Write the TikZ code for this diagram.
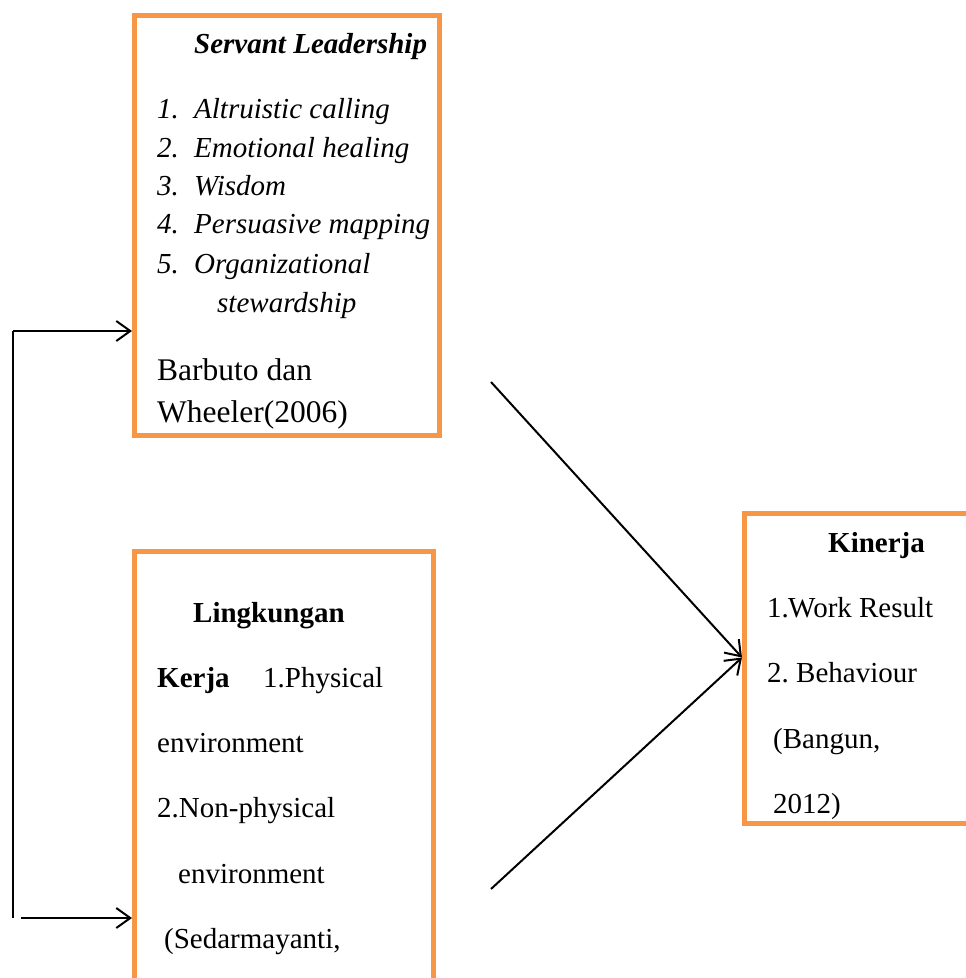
\documentclass[tikz,border=0pt]{standalone}
\usepackage{fontspec}
\setmainfont{Liberation Serif}
\usetikzlibrary{arrows.meta}
\definecolor{boxorange}{RGB}{247,150,70}
\begin{document}
\begin{tikzpicture}[x=1pt,y=-1pt,
  frame/.style={draw=boxorange,line width=5pt,rectangle,inner sep=0pt,fill=none},
  txt/.style={anchor=base west,inner sep=0pt,font=\fontsize{29}{34}\selectfont},
  bigtxt/.style={anchor=base west,inner sep=0pt,font=\fontsize{31.5}{36}\selectfont},
  conn/.style={line width=2pt,-{Straight Barb[length=14pt,width=20pt,line width=2pt]}},
  plain/.style={line width=2pt}]
\useasboundingbox (0,0) rectangle (966,978);
\clip (0,0) rectangle (966,978);
% boxes
\node[frame,minimum width=305pt,minimum height=420pt] (sbox) at (287,225.5) {};
\node[frame,minimum width=299pt,minimum height=448.5pt] (lbox) at (284,775.75) {};
\node[frame,minimum width=255.5pt,minimum height=310pt] (rbox) at (872.25,668.5) {};
% top box text
\node[txt] (s0) at (194,53) {\textbf{\textit{Servant Leadership}}};
\node[txt] (s1n) at (157,118) {\textit{1.}};
\node[txt] (s1) at (194,118) {\textit{Altruistic calling}};
\node[txt] (s2n) at (157,157) {\textit{2.}};
\node[txt] (s2) at (194,157) {\textit{Emotional healing}};
\node[txt] (s3n) at (157,195) {\textit{3.}};
\node[txt] (s3) at (194,195) {\textit{Wisdom}};
\node[txt] (s4n) at (157,233) {\textit{4.}};
\node[txt] (s4) at (194,233) {\textit{Persuasive mapping}};
\node[txt] (s5n) at (157,273) {\textit{5.}};
\node[txt] (s5) at (194,273) {\textit{Organizational}};
\node[txt] (s6) at (217,312) {\textit{stewardship}};
\node[bigtxt] (s7) at (157,380) {Barbuto dan};
\node[bigtxt] (s8) at (157,422) {Wheeler(2006)};
% bottom box text
\node[txt] (l0) at (193,622) {\textbf{Lingkungan}};
\node[txt] (l1) at (157,687) {\textbf{Kerja}};
\node[txt] (l1b) at (263,687) {1.Physical};
\node[txt] (l2) at (157,752) {environment};
\node[txt] (l3) at (157,817) {2.Non-physical};
\node[txt] (l4) at (178,883) {environment};
\node[txt] (l5) at (164,948) {(Sedarmayanti,};
% right box text
\node[txt] (k0) at (828,552) {\textbf{Kinerja}};
\node[txt] (k1n) at (767,617) {1.};
\node[txt] (k1) at (788,617) {Work Result};
\node[txt] (k2n) at (767,682) {2.};
\node[txt] (k2) at (796,682) {Behaviour};
\node[txt] (k3) at (773,748) {(Bangun,};
\node[txt] (k4) at (773,813) {2012)};
% connectors
\coordinate (d1) at (491,382);
\coordinate (d2) at (491,889);
\coordinate (c1) at (13,331);
\coordinate (c2) at (13,918);
\coordinate (c3) at (21,918);
\draw[conn] (d1) -- ([yshift=11pt]rbox.west);
\draw[conn] (d2) -- ([yshift=11pt]rbox.west);
\draw[plain] (c2) -- (c1);
\draw[conn] (c1) -- ([yshift=-105.5pt]sbox.west);
\draw[conn] (c3) -- ([yshift=-142.25pt]lbox.west);
\end{tikzpicture}
\end{document}
